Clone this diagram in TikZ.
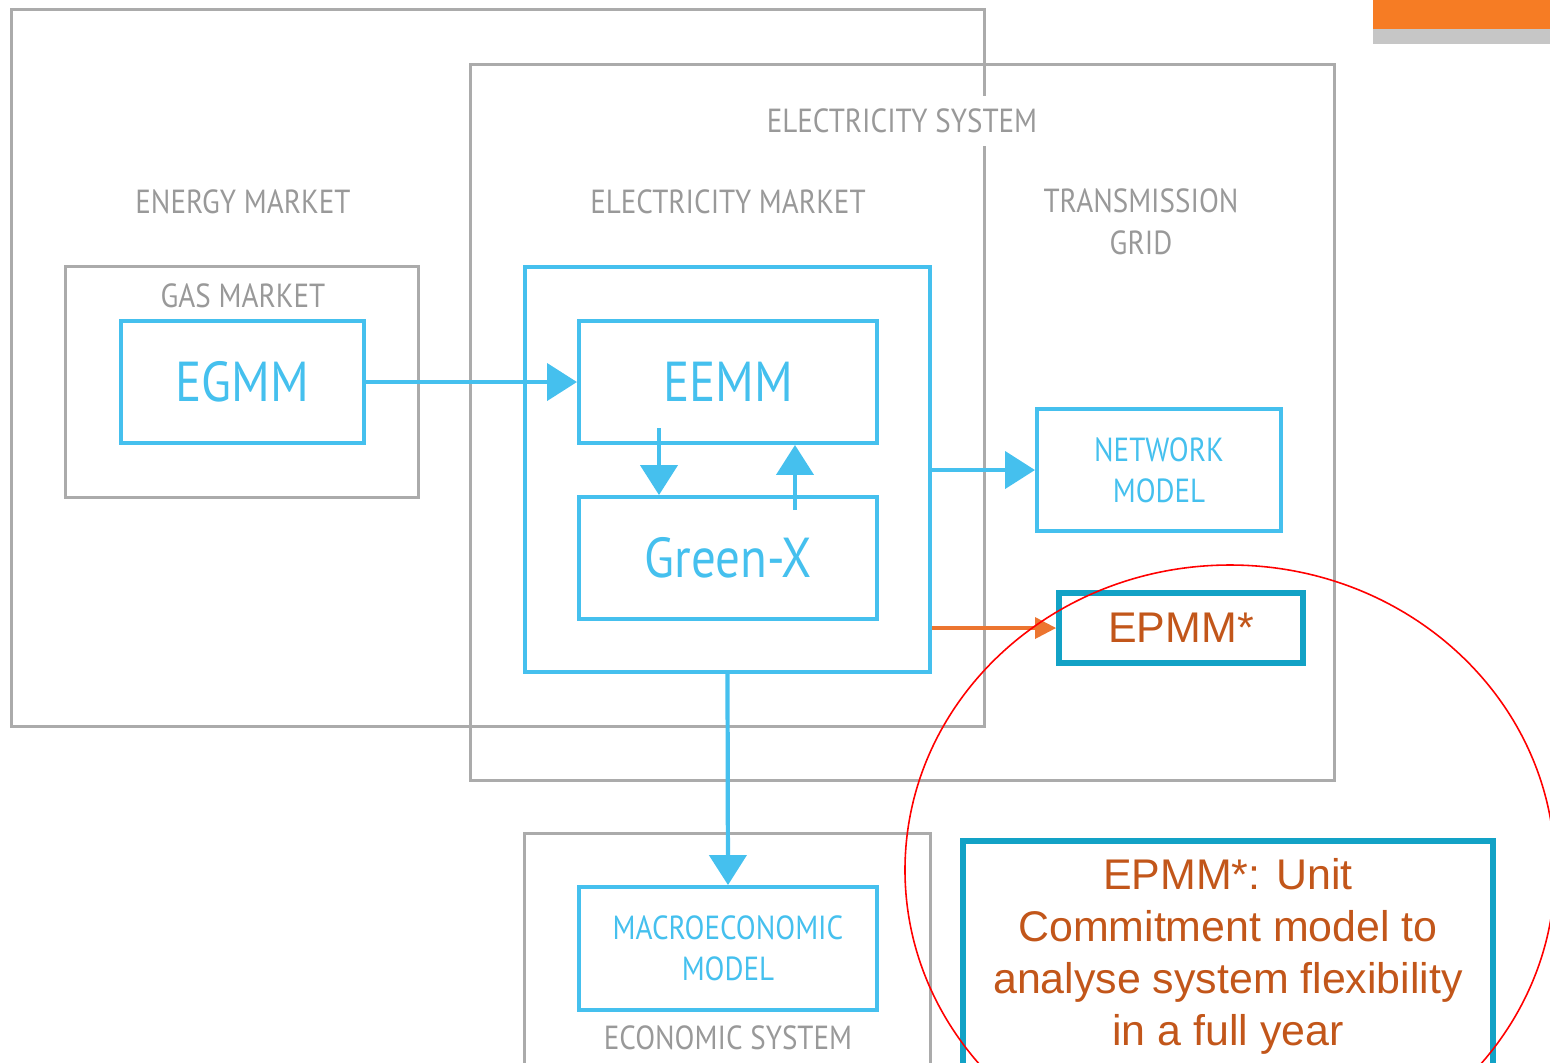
\documentclass[tikz,border=0pt]{standalone}
\usepackage{fontspec}
\setmainfont{Liberation Sans}
\newfontfamily\condfont[FakeStretch=0.87]{PT Sans}
\usetikzlibrary{arrows.meta}

\definecolor{skyline}{HTML}{45C0EE}
\definecolor{boxgray}{HTML}{ABABAB}
\definecolor{labelgray}{HTML}{999999}
\definecolor{tealline}{HTML}{12A2C6}
\definecolor{rustText}{HTML}{C2561A}
\definecolor{orangeArrow}{HTML}{EC7530}
\definecolor{barOrange}{HTML}{F67C24}
\definecolor{barGray}{HTML}{C6C6C6}

\tikzset{
  graybox/.style={draw=boxgray, line width=0.85pt, inner sep=0pt},
  bluebox/.style={draw=skyline, line width=1.1pt, inner sep=0pt, text=skyline,
    font=\condfont\fontsize{16}{16}\selectfont},
  smallblue/.style={bluebox, font=\condfont\fontsize{9.5}{11.6}\selectfont, align=center},
  graylabel/.style={text=labelgray, font=\condfont\fontsize{9.5}{11.6}\selectfont, align=center, inner sep=1pt},
  tealbox/.style={draw=tealline, line width=1.6pt, inner sep=0pt, text=rustText,
    font=\fontsize{12.2}{14.8}\selectfont, align=center},
  bluearrow/.style={draw=skyline, line width=1.2pt, -{Triangle[length=8.5pt,width=10.5pt]}},
  orangearrow/.style={draw=orangeArrow, line width=0.9pt, -{Triangle[length=6pt,width=6pt]}}
}

\begin{document}
\begin{tikzpicture}[x=0.01cm,y=-0.01cm]
  \useasboundingbox (0,0) rectangle (1550,1062);
  \clip (0,0) rectangle (1550,1062);

  % Corner bar
  \fill[barOrange] (1373,0) rectangle (1550,29);
  \fill[barGray] (1373,29) rectangle (1550,44);

  % Outer systems
  \node[graybox, minimum width=9.72cm, minimum height=7.16cm] (energy) at (498,368) {};
  \node[graybox, minimum width=8.63cm, minimum height=7.15cm] (elecsys) at (902.5,422.5) {};
  \node[graybox, minimum width=3.52cm, minimum height=2.30cm] (gas) at (242,382) {};
  \node[graybox, minimum width=4.05cm, minimum height=2.30cm] (econsys) at (727.5,949) {};

  % Labels of the systems
  \node[graylabel, fill=white, minimum height=0.5cm] (elecsyslbl) at (902,121) {ELECTRICITY SYSTEM};
  \node[graylabel] (energylbl) at (243,202) {ENERGY MARKET};
  \node[graylabel] (elecmktlbl) at (728,202) {ELECTRICITY MARKET};
  \node[graylabel] (gridlbl) at (1141,222) {TRANSMISSION\\[0.3pt]GRID};
  \node[graylabel] (gaslbl) at (243,296) {GAS MARKET};
  \node[graylabel] (econlbl) at (728,1038) {ECONOMIC SYSTEM};

  % Models
  \node[bluebox, minimum width=4.05cm, minimum height=4.05cm] (elecmkt) at (727.5,469.5) {};
  \node[bluebox, minimum width=2.43cm, minimum height=1.22cm] (egmm) at (242.5,382) {EGMM};
  \node[bluebox, minimum width=2.98cm, minimum height=1.22cm] (eemm) at (728,382) {EEMM};
  \node[bluebox, minimum width=2.98cm, minimum height=1.22cm] (greenx) at (728,558) {Green-X};
  \node[smallblue, minimum width=2.44cm, minimum height=1.22cm] (network) at (1159,470) {NETWORK\\MODEL};
  \node[smallblue, minimum width=2.98cm, minimum height=1.23cm] (macro) at (728,948.5) {MACROECONOMIC\\MODEL};
  \node[tealbox, minimum width=2.44cm, minimum height=0.70cm] (epmm) at (1181,628) {EPMM*};

  % Connections
  \coordinate (downstart) at (659,428);
  \coordinate (upstart) at (795,510);
  \draw[bluearrow] (egmm) -- (eemm);
  \draw[bluearrow] (downstart) -- (downstart |- greenx.north);
  \draw[bluearrow] (upstart) -- (upstart |- eemm.south);
  \draw[bluearrow] (elecmkt.east |- network) -- (network.west);
  \draw[bluearrow] (elecmkt.south) -- (macro.north);
  \draw[orangearrow] (elecmkt.east |- epmm) -- (epmm.west);

  % Note
  \node[tealbox, minimum width=5.30cm, minimum height=2.40cm, anchor=north] (note) at (1228,838) {};
  \node[text=rustText, font=\fontsize{12.2}{14.8}\selectfont, align=center] (notetext) at (1228,956)
    {EPMM*: Unit\\Commitment model to\\analyse system flexibility\\in a full year};
  \draw[red, line width=0.45pt] (1230,870) ellipse [x radius=325, y radius=305];
\end{tikzpicture}
\end{document}
